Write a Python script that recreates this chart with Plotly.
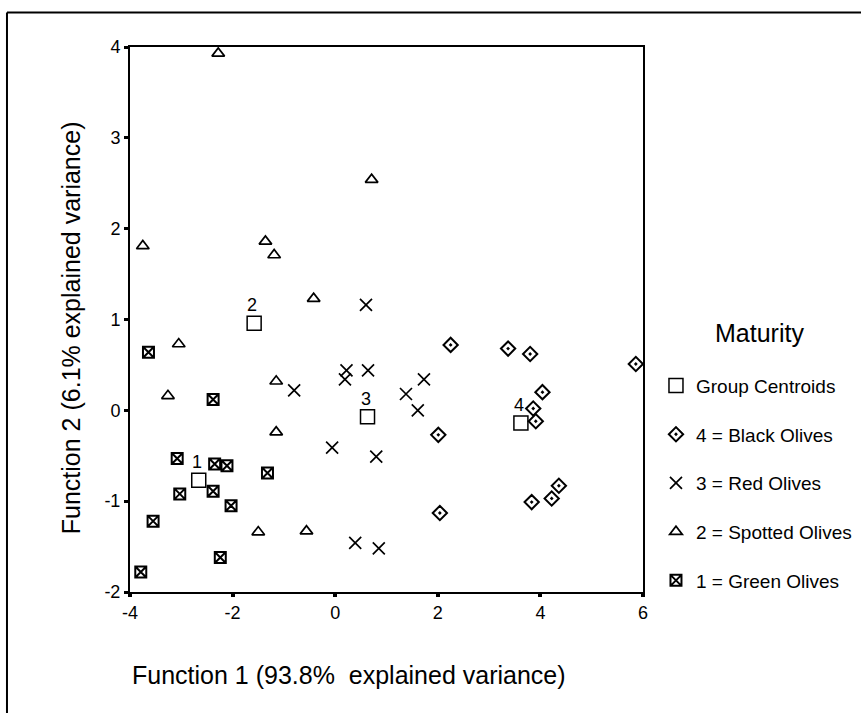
import plotly.graph_objects as go

# Discriminant function scores per maturity group
green_x = [-3.64, -2.38, -3.08, -2.35, -2.11, -1.32, -3.03, -2.38, -2.03, -3.55, -2.24, -3.79]
green_y = [0.64, 0.12, -0.53, -0.59, -0.61, -0.69, -0.92, -0.89, -1.05, -1.22, -1.62, -1.78]

spotted_x = [-2.28, 0.71, -3.75, -1.36, -1.19, -0.42, -3.05, -3.26, -1.15, -1.15, -1.50, -0.56]
spotted_y = [3.93, 2.54, 1.81, 1.86, 1.71, 1.23, 0.73, 0.16, 0.32, -0.24, -1.34, -1.33]

red_x = [0.60, -0.80, 0.22, 0.19, 0.64, 1.73, 1.38, 1.61, -0.06, 0.80, 0.39, 0.85]
red_y = [1.16, 0.22, 0.44, 0.34, 0.44, 0.34, 0.18, 0.00, -0.41, -0.51, -1.46, -1.52]

black_x = [2.25, 3.37, 3.80, 5.86, 4.04, 3.86, 3.91, 2.01, 4.36, 4.22, 3.83, 2.04]
black_y = [0.72, 0.68, 0.62, 0.51, 0.20, 0.02, -0.12, -0.27, -0.83, -0.97, -1.01, -1.13]

centroid_x = [-2.66, -1.58, 0.63, 3.62]
centroid_y = [-0.77, 0.96, -0.07, -0.14]
centroid_labels = ["1", "2", "3", "4"]

x_ticks = [-4, -2, 0, 2, 4, 6]
y_ticks = [-2, -1, 0, 1, 2, 3, 4]

FONT = "Liberation Sans, Arial, sans-serif"
INK = "black"

fig = go.Figure()

fig.add_trace(go.Scatter(
    x=centroid_x, y=centroid_y, mode="markers", name="Group Centroids",
    legendgroup="c", cliponaxis=False,
    marker=dict(symbol="square-open", size=14, color=INK, line=dict(width=1.5, color=INK)),
))
fig.add_trace(go.Scatter(
    x=black_x, y=black_y, mode="markers", name="4 = Black Olives",
    legendgroup="g4", cliponaxis=False,
    marker=dict(symbol="diamond-open-dot", size=11, color=INK, line=dict(width=2, color=INK)),
))
fig.add_trace(go.Scatter(
    x=red_x, y=red_y, mode="markers", name="3 = Red Olives",
    legendgroup="g3", cliponaxis=False,
    marker=dict(symbol="x-thin-open", size=12, color=INK, line=dict(width=1.7, color=INK)),
))
fig.add_trace(go.Scatter(
    x=spotted_x, y=spotted_y, mode="markers", name="2 = Spotted Olives",
    legendgroup="g2", cliponaxis=False,
    marker=dict(symbol="triangle-up-open", size=11, color=INK, line=dict(width=1.7, color=INK)),
))
fig.add_trace(go.Scatter(
    x=green_x, y=green_y, mode="markers", name="1 = Green Olives",
    legendgroup="g1", cliponaxis=False,
    marker=dict(symbol="square-x-open", size=11, color=INK, line=dict(width=2, color=INK)),
))

# Centroid group numbers just above each centroid square
annotations = [
    dict(x=cx, y=cy, text=lab, showarrow=False, xref="x", yref="y",
         xshift=-2, yshift=18, font=dict(family=FONT, size=18, color=INK))
    for cx, cy, lab in zip(centroid_x, centroid_y, centroid_labels)
]
annotations += [
    dict(x=0.0, y=-0.152, xref="paper", yref="paper", xanchor="left", yanchor="middle",
         text="Function 1 (93.8%&nbsp; explained variance)", showarrow=False,
         font=dict(family=FONT, size=25, color=INK)),
    dict(x=-0.115, y=0.484, xref="paper", yref="paper", xanchor="center", yanchor="middle",
         textangle=-90, text="Function 2 (6.1% explained variance)", showarrow=False,
         font=dict(family=FONT, size=25, color=INK)),
    # legend heading
    dict(x=1.228, y=0.4752, xref="paper", yref="paper", xanchor="center", yanchor="middle",
         text="Maturity", showarrow=False, font=dict(family=FONT, size=25, color=INK)),
]

# Outer frame edges (top and left)
shapes = [
    dict(type="line", xref="paper", yref="paper", x0=-0.2398, x1=1.5, y0=1.0633, y1=1.0633,
         line=dict(color=INK, width=2)),
    dict(type="line", xref="paper", yref="paper", x0=-0.2398, x1=-0.2398, y0=1.0633, y1=-0.3,
         line=dict(color=INK, width=2)),
]

axis_common = dict(
    showgrid=False, zeroline=False, showline=True, linecolor=INK, linewidth=2,
    mirror=True, ticks="outside", tickcolor=INK, automargin=False,
    tickfont=dict(family=FONT, size=18, color=INK),
)

fig.update_layout(
    width=861, height=713,
    margin=dict(l=130, r=218, t=47, b=121, autoexpand=False),
    paper_bgcolor="white", plot_bgcolor="white",
    font=dict(family=FONT, color=INK),
    xaxis=dict(range=[-4, 6], tickvals=x_ticks, ticktext=[str(v) for v in x_ticks],
               ticklen=3, tickwidth=4, **axis_common),
    yaxis=dict(range=[-2, 4], tickvals=y_ticks, ticktext=[str(v) for v in y_ticks],
               ticklen=4, tickwidth=3, **axis_common),
    legend=dict(
        x=1.0253, xanchor="left", y=0.4134, yanchor="top",
        font=dict(family=FONT, size=19, color=INK),
        tracegroupgap=21, bgcolor="rgba(0,0,0,0)", borderwidth=0,
    ),
    annotations=annotations,
    shapes=shapes,
    showlegend=True,
)

fig.write_html("out.html")
